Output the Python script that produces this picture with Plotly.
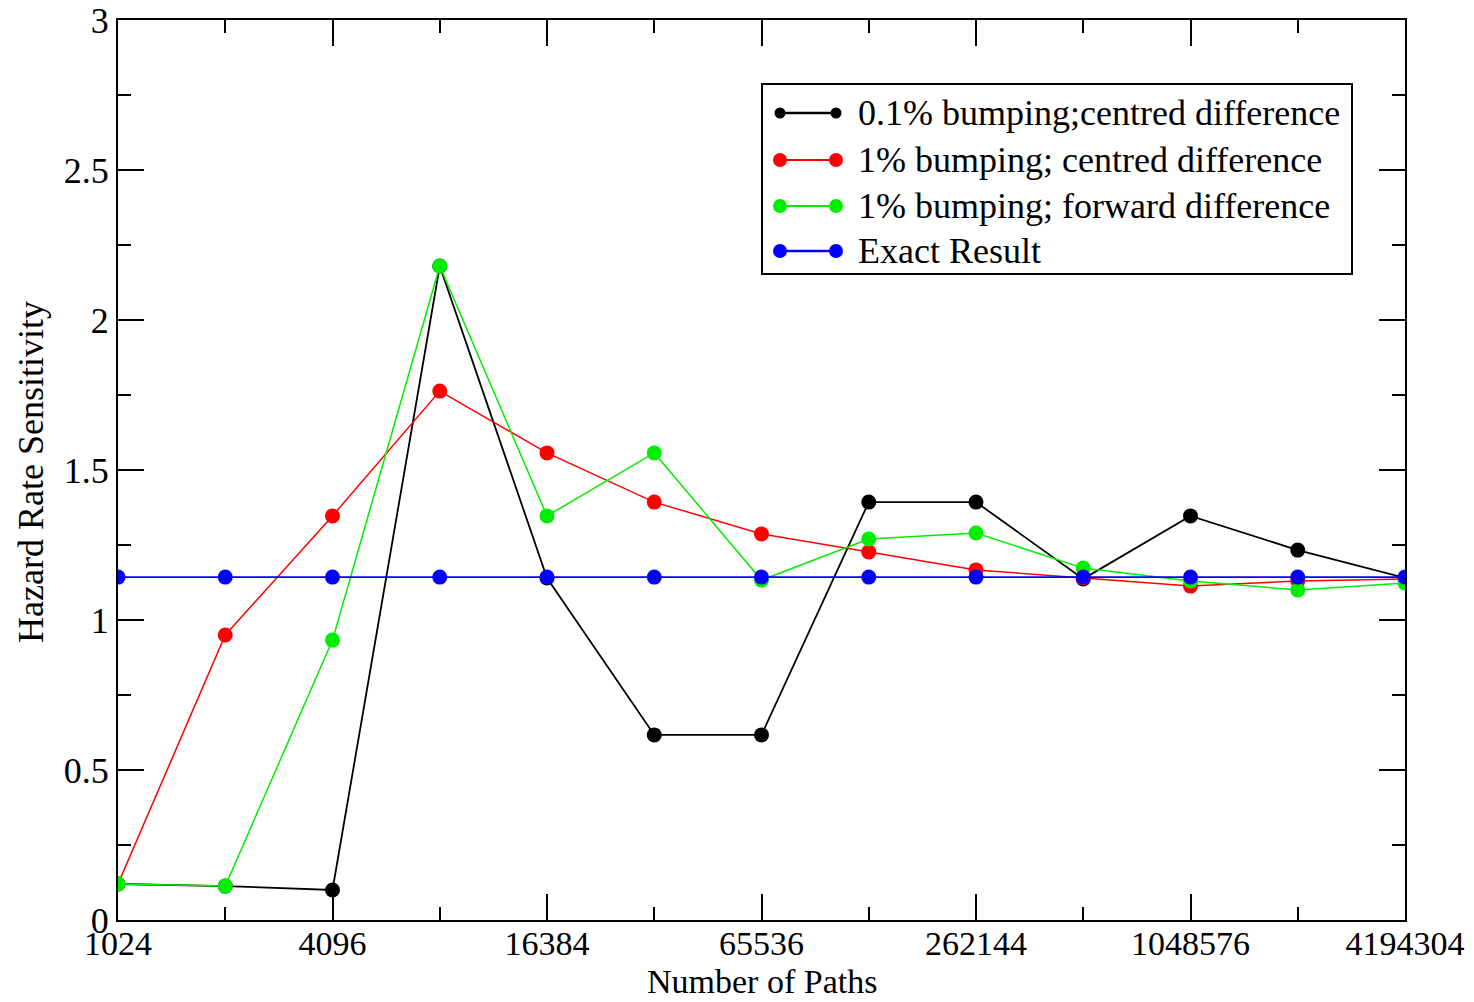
import plotly.graph_objects as go

# Number of Monte Carlo paths (powers of two from 2^10 to 2^22)
paths = [1024, 2048, 4096, 8192, 16384, 32768, 65536, 131072, 262144,
         524288, 1048576, 2097152, 4194304]

bump_01_centred = [0.12, 0.113, 0.10, 2.18, 1.14, 0.617, 0.617, 1.393, 1.393,
                   1.137, 1.347, 1.233, 1.14]
bump_1_centred = [0.12, 0.95, 1.347, 1.763, 1.557, 1.393, 1.287, 1.227, 1.167,
                  1.14, 1.113, 1.13, 1.137]
bump_1_forward = [0.12, 0.113, 0.933, 2.18, 1.347, 1.557, 1.133, 1.27, 1.29,
                  1.173, 1.13, 1.10, 1.123]
exact_result = [1.143] * len(paths)

major_ticks = [1024, 4096, 16384, 65536, 262144, 1048576, 4194304]
minor_ticks = [2048, 8192, 32768, 131072, 524288, 2097152]

series = [
    ("0.1% bumping;centred difference", bump_01_centred, "#000000", 1.8, 11),
    ("1% bumping; centred difference", bump_1_centred, "#ff0000", 1.5, 14),
    ("1% bumping; forward difference", bump_1_forward, "#00ee00", 1.5, 14),
    ("Exact Result", exact_result, "#0000ff", 1.8, 14),
]

font_family = "Liberation Serif, Times New Roman, serif"
FS = 36
FS_X = 34  # x labels and title sit in a tight strip under the plot

# plot-area geometry in pixels, used to place the hand-built legend
W, H = 1474, 1002
ML, MR, MT, MB = 118, 69, 20, 82
PW, PH = W - ML - MR, H - MT - MB


def px(x):
    return (x - ML) / PW


def py(y):
    return (H - MB - y) / PH


fig = go.Figure()
for name, vals, color, width, _ in series:
    fig.add_trace(go.Scatter(
        x=paths, y=vals, name=name, mode="lines+markers",
        line=dict(color=color, width=width),
        marker=dict(color=color, size=15, symbol="circle"),
        showlegend=False,
    ))

# legend: framed box with a line and a marker at each end of every entry
shapes = [dict(type="rect", xref="paper", yref="paper",
               x0=px(762), x1=px(1352), y0=py(274), y1=py(84),
               line=dict(color="black", width=2), fillcolor="white", layer="above")]
annotations = []
row_y = [113, 160, 206, 251]
for (name, _, color, width, msize), ry in zip(series, row_y):
    shapes.append(dict(type="line", xref="paper", yref="paper",
                       x0=px(780), x1=px(836), y0=py(ry), y1=py(ry),
                       line=dict(color=color, width=width + 0.5), layer="above"))
    for cx in (780, 836):
        shapes.append(dict(type="circle", xref="paper", yref="paper",
                           xsizemode="pixel", ysizemode="pixel",
                           xanchor=px(cx), yanchor=py(ry),
                           x0=-msize / 2, x1=msize / 2, y0=-msize / 2, y1=msize / 2,
                           line=dict(color=color, width=0), fillcolor=color,
                           layer="above"))
    annotations.append(dict(text=name, xref="paper", yref="paper",
                            x=px(856), y=py(ry), xanchor="left", yanchor="middle",
                            showarrow=False, font=dict(size=FS, color="black")))

# axis titles
annotations.append(dict(text="Number of Paths", xref="paper", yref="paper",
                        x=px(762), y=py(1001), xanchor="center", yanchor="bottom",
                        borderpad=0, showarrow=False,
                        font=dict(size=FS_X, color="black")))
annotations.append(dict(text="Hazard Rate Sensitivity", xref="paper", yref="paper",
                        x=px(31), y=py(472), xanchor="center", yanchor="middle",
                        textangle=-90, showarrow=False,
                        font=dict(size=FS, color="black")))

fig.update_layout(
    width=W, height=H,
    margin=dict(l=ML, r=MR, t=MT, b=MB),
    paper_bgcolor="white", plot_bgcolor="white",
    font=dict(family=font_family, size=FS, color="black"),
    showlegend=False,
    shapes=shapes,
    annotations=annotations,
)

fig.update_xaxes(
    type="log",
    range=[3.0103, 6.62266],
    automargin=False,
    tickmode="array", tickvals=major_ticks,
    ticktext=[str(v) for v in major_ticks],
    ticks="inside", ticklen=26, tickwidth=2, tickcolor="black",
    ticklabelstandoff=-8,
    minor=dict(tickmode="array", tickvals=minor_ticks, ticks="inside",
               ticklen=13, tickwidth=2, tickcolor="black"),
    showline=True, linewidth=2, linecolor="black", mirror="ticks",
    showgrid=False, zeroline=False,
    tickfont=dict(size=FS_X),
)

fig.update_yaxes(
    range=[0, 3],
    automargin=False,
    tickmode="array", tickvals=[0, 0.5, 1, 1.5, 2, 2.5, 3],
    ticktext=["0", "0.5", "1", "1.5", "2", "2.5", "3"],
    ticks="inside", ticklen=26, tickwidth=2, tickcolor="black",
    minor=dict(tickmode="array", tickvals=[0.25, 0.75, 1.25, 1.75, 2.25, 2.75],
               ticks="inside", ticklen=13, tickwidth=2, tickcolor="black"),
    showline=True, linewidth=2, linecolor="black", mirror="ticks",
    showgrid=False, zeroline=False,
    tickfont=dict(size=FS),
)

fig.write_html("out.html")
